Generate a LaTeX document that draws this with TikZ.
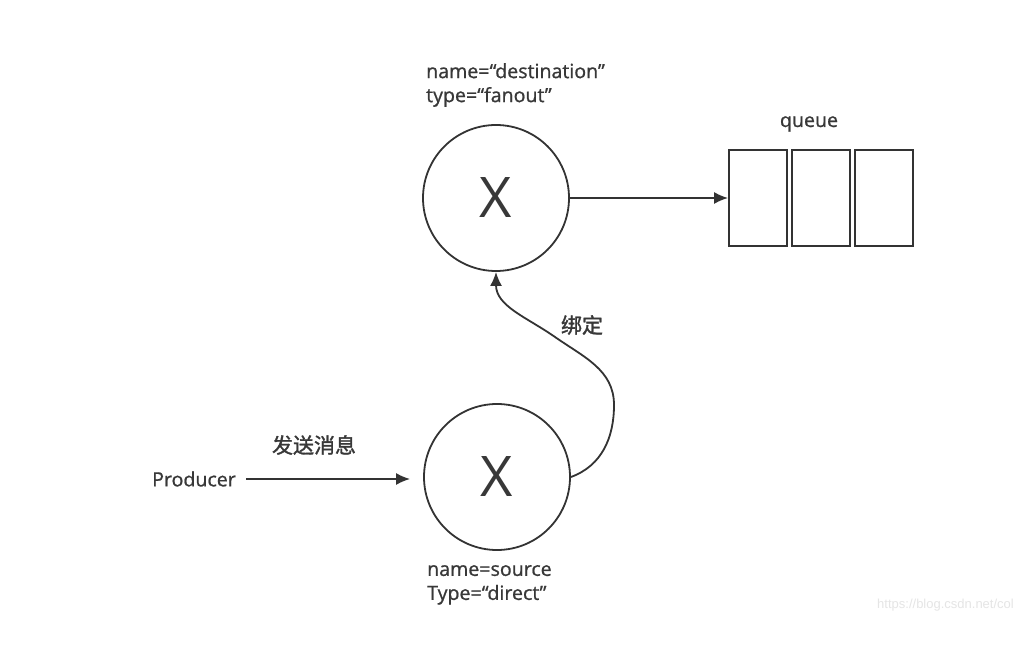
\documentclass[tikz,border=0pt]{standalone}
\usepackage{fontspec}
\setmainfont{Open Sans}
\setsansfont{Open Sans}
\newfontfamily\lblfont{Open Sans}[FakeBold=0.9]
\newfontfamily\cjkfont{Noto Sans CJK SC}[AutoFakeBold=1.5]
\newfontfamily\wmfont{Liberation Sans}
\usetikzlibrary{arrows.meta,positioning}

\newcommand\exlinecolor{black!80}
\newcommand\extextcolor{black!78}
\newcommand\exlinewidth{1.8pt}

\tikzset{
  exchange/.style={circle, draw=\exlinecolor, fill=white, line width=\exlinewidth,
    minimum size=146pt, inner sep=0pt, text=\extextcolor,
    font=\fontsize{56}{60}\selectfont},
  qslot/.style={rectangle, draw=\exlinecolor, line width=\exlinewidth,
    minimum width=58pt, minimum height=96pt, inner sep=0pt},
  infolbl/.style={font=\lblfont\fontsize{19.6}{24}\selectfont, text=\extextcolor,
    inner sep=0pt, align=left},
  cjklbl/.style={font=\cjkfont\bfseries\fontsize{21}{24}\selectfont,
    text=\extextcolor, inner sep=0pt},
  flow/.style={draw=\exlinecolor, line width=\exlinewidth,
    -{Latex[length=14pt,width=12pt]}},
}

\begin{document}
\begin{tikzpicture}[x=1pt, y=1pt]
  \useasboundingbox[fill=white] (0,0) rectangle (1016,664);

  % exchanges
  \node[exchange] (dst) at (496,466) {X};
  \node[exchange] (src) at (497,187) {X};
  \node[infolbl, anchor=north west] (dstinfo) at (426,601)
    {name=“destination”\\type=“fanout”};
  \node[infolbl, anchor=north west] (srcinfo) at (427,99)
    {name=source\\Type=“direct”};

  % queue
  \node[qslot] (q1) at (758,466) {};
  \node[qslot, right=3pt of q1] (q2) {};
  \node[qslot, right=3pt of q2] (q3) {};
  \node[infolbl] (qname) at (809,540) {queue};

  % producer
  \node[infolbl] (prod) at (194,185) {Producer};
  \node[cjklbl] (sendlbl) at (314,219) {发送消息};
  \draw[flow, shorten <=10pt, shorten >=13pt] (prod.east) -- (prod.east -| src.west);

  % binding
  \coordinate (bendr) at (614,259);
  \coordinate (bendm) at (555,327);
  \node[cjklbl] (bindlbl) at (582,339) {绑定};
  \draw[flow] (src.east) to[out=20,in=-90] (bendr)
    to[out=90,in=-35] (bendm) to[out=145,in=-90] (dst.south);

  \draw[flow] (dst.east) -- (q1.west);

  \node[font=\wmfont\fontsize{13}{13}\selectfont, text=black!10,
    inner sep=0pt, anchor=east] (wmark) at (1014,59) {https://blog.csdn.net/col};
\end{tikzpicture}
\end{document}
